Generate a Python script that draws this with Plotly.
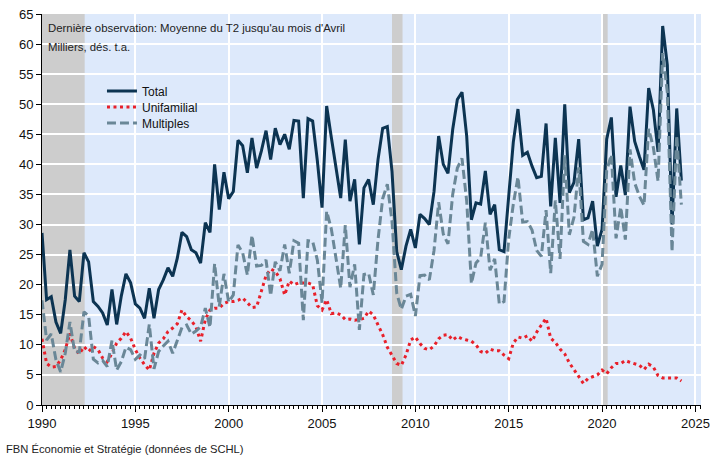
import plotly.graph_objects as go
import pandas as pd

# Quarterly starts, 1990Q1 .. 2024Q2 (thousands, SA)
total = [
    28.6, 17.5, 18.0, 13.8,
    11.9, 17.5, 25.8, 18.1,
    17.2, 25.3, 23.8, 17.2,
    16.4, 15.3, 13.3, 19.2,
    13.4, 18.1, 21.8, 20.3,
    16.8, 16.1, 14.4, 19.4,
    14.4, 19.2, 20.8, 22.8,
    21.4, 24.4, 28.7, 28.0,
    25.8, 25.3, 23.6, 30.3,
    28.7, 40.0, 32.5, 38.7,
    34.3, 35.5, 44.0, 43.1,
    38.6, 44.4, 39.4, 42.2,
    45.6, 40.8, 46.0, 43.3,
    45.0, 42.5, 47.3, 47.2,
    34.4, 47.6, 47.2, 40.6,
    32.8, 49.7, 44.5, 39.7,
    34.4, 44.1, 33.9, 37.5,
    26.7, 36.1, 37.5, 33.3,
    40.8, 46.0, 46.3, 38.8,
    25.5, 22.5, 26.4, 29.2,
    26.1, 31.7, 31.0, 30.0,
    35.5, 44.7, 40.0, 38.5,
    45.8, 50.8, 52.0, 44.7,
    30.8, 33.6, 33.4, 38.9,
    31.7, 33.3, 25.8, 25.5,
    35.3, 43.7, 49.2, 41.5,
    42.0, 39.7, 37.8, 38.0,
    46.8, 33.0, 44.4, 33.6,
    50.0, 35.3, 37.0, 44.2,
    30.8, 31.1, 33.9, 26.4,
    29.2, 44.2, 47.8, 34.6,
    39.8, 34.9, 49.6, 43.8,
    41.3, 39.1, 52.7, 49.1,
    42.1, 63.0, 56.5, 30.0,
    49.3, 37.3,
]

unifamilial = [
    11.0, 6.9, 6.3, 6.4,
    7.5, 9.2, 11.9, 9.4,
    8.5, 9.7, 8.9, 9.7,
    9.2, 7.8, 7.2, 8.6,
    10.3, 11.1, 12.2, 11.1,
    9.2, 7.8, 6.7, 5.8,
    8.6, 10.3, 11.0, 12.2,
    12.8, 13.5, 15.8, 14.7,
    14.0, 13.0, 10.6, 14.2,
    15.8, 16.1, 16.1, 16.9,
    17.2, 17.2, 17.4, 17.8,
    17.0, 16.2, 16.3, 19.0,
    21.5, 22.6, 22.2, 21.0,
    18.3, 20.6, 20.0, 20.3,
    20.3, 20.3, 20.0, 16.5,
    15.8, 17.5, 15.2, 15.3,
    15.0, 14.2, 14.3, 14.1,
    14.2, 14.4, 15.6, 15.0,
    13.3, 11.7, 9.6, 8.3,
    6.9, 6.6, 8.3, 10.8,
    11.3, 10.2, 9.4, 9.2,
    9.8, 11.0, 11.6, 11.7,
    10.8, 11.4, 11.0, 10.8,
    10.6, 10.0, 8.9, 8.6,
    9.3, 9.0, 9.0, 8.3,
    7.7, 10.3, 11.3, 11.1,
    11.5, 10.6, 12.1, 13.3,
    14.4, 11.1, 10.4, 9.3,
    8.5, 7.0, 5.8, 4.7,
    3.6, 4.4, 4.7, 5.0,
    5.8, 5.2, 6.2, 6.9,
    6.9, 7.4, 7.1, 6.9,
    6.6, 5.9, 6.8, 6.3,
    4.9, 4.5, 4.5, 4.5,
    4.5, 4.0,
]

multiples = [
    17.4, 10.8, 11.8, 7.5,
    5.5, 8.6, 13.8, 8.9,
    8.8, 15.5, 14.8, 7.6,
    7.0, 7.4, 6.4, 10.7,
    5.8, 7.2, 9.6, 9.2,
    7.6, 8.3, 7.7, 13.4,
    6.0, 8.9, 9.8, 10.6,
    8.6, 10.9, 12.9, 13.3,
    11.8, 12.3, 13.0, 16.1,
    12.9, 23.5, 16.4, 21.8,
    17.1, 18.3, 26.6, 25.3,
    21.6, 28.2, 23.1, 23.2,
    24.1, 18.2, 23.8, 22.3,
    26.7, 21.9, 27.3, 26.9,
    14.1, 27.3, 27.2, 24.1,
    17.0, 32.2, 29.3, 24.4,
    19.4, 29.9, 19.6, 23.4,
    12.5, 21.7, 21.9, 18.3,
    27.5, 34.3, 36.7, 30.5,
    18.6, 15.9, 18.1, 18.4,
    14.8, 21.5, 21.6, 20.8,
    25.7, 33.7, 28.4, 26.8,
    35.0, 39.4, 41.0, 33.9,
    20.2, 23.6, 24.5, 30.3,
    22.4, 24.3, 16.8, 17.2,
    27.6, 33.4, 37.9, 30.4,
    30.5, 29.1, 25.7, 24.7,
    32.4, 21.9, 34.0, 24.3,
    41.5, 28.3, 31.2, 39.5,
    27.2, 26.7, 29.2, 21.4,
    23.4, 39.0, 41.6, 27.7,
    32.9, 27.5, 42.5, 36.9,
    34.7, 33.2, 45.9, 42.8,
    37.2, 58.5, 52.0, 25.5,
    44.8, 33.3,
]

quarters = pd.date_range("1990-01-01", periods=len(total), freq="QS")

recessions = [
    ("1990-01-01", "1992-04-15"),
    ("2008-10-01", "2009-04-25"),
    ("2020-01-01", "2020-04-20"),
]

FONT = "Liberation Sans, Arial, sans-serif"

fig = go.Figure()
fig.add_trace(go.Scatter(x=quarters, y=total, name="Total", mode="lines",
                         line=dict(color="#0c3452", width=3), legend="legend"))
fig.add_trace(go.Scatter(x=quarters, y=unifamilial, name="Unifamilial", mode="lines",
                         line=dict(color="#e8202a", width=3, dash="3px,3.5px"), legend="legend2"))
fig.add_trace(go.Scatter(x=quarters, y=multiples, name="Multiples", mode="lines",
                         line=dict(color="#6a8797", width=3, dash="9px,4px"), legend="legend3"))

for x0, x1 in recessions:
    fig.add_shape(type="rect", xref="x", yref="paper", x0=x0, x1=x1, y0=0, y1=1,
                  fillcolor="#cdcdcd", line=dict(width=0), layer="below")

leg_common = dict(xanchor="left", yanchor="middle", bgcolor="rgba(0,0,0,0)",
                  font=dict(family=FONT, size=12, color="#111"), borderwidth=0)
fig.update_layout(
    legend=dict(x=0.091, y=0.803, **leg_common),
    legend2=dict(x=0.091, y=0.762, **leg_common),
    legend3=dict(x=0.091, y=0.721, **leg_common),
)

fig.add_annotation(text="Dernière observation: Moyenne du T2 jusqu'au mois d'Avril",
                   xref="paper", yref="paper", x=0.006, y=0.964, xanchor="left", yanchor="middle",
                   showarrow=False, font=dict(family=FONT, size=11.4, color="#222"))
fig.add_annotation(text="Milliers, dés. t.a.",
                   xref="paper", yref="paper", x=0.006, y=0.916, xanchor="left", yanchor="middle",
                   showarrow=False, font=dict(family=FONT, size=11.4, color="#222"))
fig.add_annotation(text="FBN Économie et Stratégie (données de SCHL)",
                   xref="paper", yref="paper", x=-0.058, y=-0.1125, xanchor="left", yanchor="middle",
                   showarrow=False, font=dict(family=FONT, size=11.2, color="#222"))

fig.update_layout(
    width=723, height=458,
    margin=dict(l=42, r=22, t=14, b=53, autoexpand=False),
    paper_bgcolor="white",
    plot_bgcolor="#dde9fb",
    font=dict(family=FONT, size=13, color="#111"),
    showlegend=True,
    xaxis=dict(
        type="date", automargin=False,
        range=["1990-01-01", "2025-04-20"],
        tick0="1990-01-01", dtick="M60", tickformat="%Y",
        ticks="outside", ticklen=6, tickcolor="black", tickwidth=1,
        showline=True, linecolor="black", linewidth=1,
        showgrid=True, gridcolor="white", gridwidth=1.5,
        minor=dict(dtick="M3", ticks="outside", ticklen=3, tickcolor="black", showgrid=False),
        tickfont=dict(family=FONT, size=13, color="#111"),
        zeroline=False,
    ),
    yaxis=dict(
        automargin=False,
        range=[0, 65], dtick=5, tick0=0,
        ticks="outside", ticklen=5, tickcolor="black",
        showline=True, linecolor="black", linewidth=1,
        showgrid=True, gridcolor="white", gridwidth=1.5,
        tickfont=dict(family=FONT, size=13, color="#111"),
        zeroline=False,
    ),
)

fig.write_html("out.html", config={"displayModeBar": False},
               post_script="document.body.style.margin='0';")
